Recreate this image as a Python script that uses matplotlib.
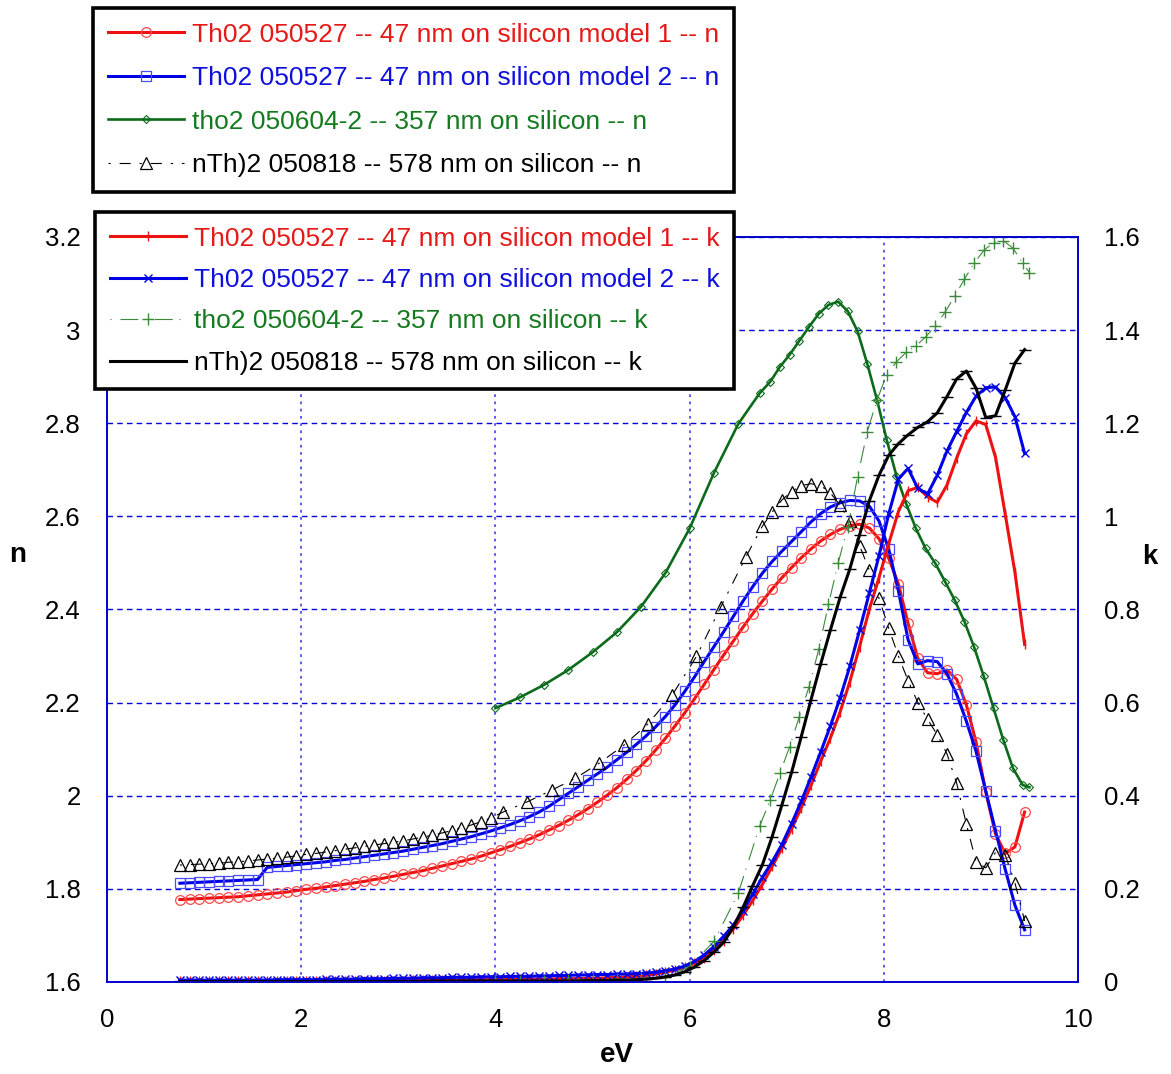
import matplotlib
matplotlib.use('Agg')
import matplotlib.pyplot as plt
from matplotlib import ticker
from matplotlib.lines import Line2D

plt.rcParams['font.family'] = ['Liberation Sans', 'DejaVu Sans']

# photon energy grid (eV) shared by the two Th02 050527 models and the 578 nm k data
energy = [0.75, 0.85, 0.95, 1.05, 1.15, 1.25, 1.35, 1.45, 1.55, 1.65,
          1.75, 1.85, 1.95, 2.05, 2.15, 2.25, 2.35, 2.45, 2.55, 2.65,
          2.75, 2.85, 2.95, 3.05, 3.15, 3.25, 3.35, 3.45, 3.55, 3.65,
          3.75, 3.85, 3.95, 4.05, 4.15, 4.25, 4.35, 4.45, 4.55, 4.65,
          4.75, 4.85, 4.95, 5.05, 5.15, 5.25, 5.35, 5.45, 5.55, 5.65,
          5.75, 5.85, 5.95, 6.05, 6.15, 6.25, 6.35, 6.45, 6.55, 6.65,
          6.75, 6.85, 6.95, 7.05, 7.15, 7.25, 7.35, 7.45, 7.55, 7.65,
          7.75, 7.85, 7.95, 8.05, 8.15, 8.25, 8.35, 8.45, 8.55, 8.65,
          8.75, 8.85, 8.95, 9.05, 9.15, 9.25, 9.35, 9.45]

n_model1 = [1.777, 1.778, 1.779, 1.780, 1.781, 1.782, 1.783, 1.785, 1.787, 1.789,
            1.791, 1.793, 1.796, 1.799, 1.801, 1.804, 1.807, 1.810, 1.813, 1.816,
            1.820, 1.823, 1.827, 1.831, 1.835, 1.839, 1.844, 1.849, 1.854, 1.859,
            1.864, 1.870, 1.877, 1.884, 1.891, 1.899, 1.907, 1.916, 1.926, 1.936,
            1.947, 1.959, 1.972, 1.986, 2.001, 2.017, 2.035, 2.054, 2.075, 2.098,
            2.123, 2.150, 2.178, 2.208, 2.239, 2.271, 2.302, 2.332, 2.362, 2.391,
            2.418, 2.444, 2.468, 2.490, 2.511, 2.530, 2.547, 2.561, 2.572, 2.580,
            2.583, 2.575, 2.552, 2.510, 2.455, 2.370, 2.295, 2.264, 2.262, 2.270,
            2.250, 2.195, 2.115, 2.008, 1.918, 1.876, 1.890, 1.965]

n_model2 = [1.812, 1.813, 1.814, 1.815, 1.816, 1.817, 1.818, 1.819, 1.820, 1.846,
            1.848, 1.850, 1.852, 1.854, 1.856, 1.858, 1.861, 1.863, 1.866, 1.869,
            1.872, 1.875, 1.878, 1.881, 1.885, 1.889, 1.893, 1.897, 1.902, 1.907,
            1.912, 1.918, 1.924, 1.931, 1.938, 1.946, 1.955, 1.965, 1.977, 1.991,
            2.005, 2.019, 2.033, 2.047, 2.061, 2.077, 2.093, 2.110, 2.128, 2.148,
            2.170, 2.195, 2.224, 2.255, 2.288, 2.320, 2.352, 2.385, 2.418, 2.449,
            2.478, 2.503, 2.525, 2.546, 2.567, 2.588, 2.606, 2.620, 2.629, 2.634,
            2.633, 2.622, 2.590, 2.530, 2.440, 2.335, 2.283, 2.290, 2.288, 2.262,
            2.218, 2.160, 2.095, 2.010, 1.925, 1.842, 1.765, 1.712]

k_model1 = [0.002, 0.002, 0.002, 0.002, 0.002, 0.002, 0.002, 0.002, 0.002, 0.002,
            0.002, 0.002, 0.002, 0.002, 0.003, 0.003, 0.003, 0.003, 0.003, 0.003,
            0.003, 0.003, 0.003, 0.003, 0.004, 0.004, 0.004, 0.004, 0.004, 0.004,
            0.005, 0.005, 0.005, 0.005, 0.005, 0.006, 0.006, 0.006, 0.006, 0.007,
            0.007, 0.007, 0.008, 0.008, 0.009, 0.010, 0.011, 0.012, 0.014, 0.017,
            0.021, 0.026, 0.032, 0.040, 0.052, 0.068, 0.089, 0.114, 0.143, 0.175,
            0.210, 0.248, 0.287, 0.329, 0.374, 0.422, 0.474, 0.524, 0.580, 0.645,
            0.720, 0.800, 0.868, 0.941, 1.010, 1.055, 1.062, 1.042, 1.030, 1.067,
            1.125, 1.177, 1.205, 1.197, 1.127, 1.005, 0.880, 0.725]

k_model2 = [0.004, 0.004, 0.004, 0.004, 0.004, 0.004, 0.004, 0.004, 0.004, 0.004,
            0.005, 0.005, 0.005, 0.005, 0.005, 0.006, 0.006, 0.006, 0.006, 0.007,
            0.007, 0.007, 0.008, 0.008, 0.008, 0.009, 0.009, 0.009, 0.010, 0.010,
            0.010, 0.011, 0.011, 0.011, 0.012, 0.012, 0.012, 0.013, 0.013, 0.014,
            0.014, 0.015, 0.015, 0.016, 0.016, 0.017, 0.017, 0.018, 0.019, 0.021,
            0.024, 0.028, 0.034, 0.044, 0.058, 0.076, 0.098, 0.122, 0.153, 0.189,
            0.225, 0.258, 0.295, 0.340, 0.388, 0.440, 0.494, 0.550, 0.610, 0.678,
            0.755, 0.835, 0.915, 1.005, 1.080, 1.103, 1.060, 1.048, 1.088, 1.140,
            1.182, 1.223, 1.258, 1.276, 1.278, 1.255, 1.214, 1.135]

k_578 = [0.001, 0.001, 0.001, 0.001, 0.001, 0.001, 0.001, 0.001, 0.001, 0.001,
         0.001, 0.001, 0.001, 0.001, 0.001, 0.001, 0.001, 0.001, 0.001, 0.001,
         0.001, 0.001, 0.001, 0.001, 0.001, 0.001, 0.002, 0.002, 0.002, 0.002,
         0.002, 0.002, 0.002, 0.002, 0.002, 0.002, 0.002, 0.002, 0.002, 0.002,
         0.002, 0.002, 0.003, 0.003, 0.003, 0.004, 0.004, 0.005, 0.006, 0.008,
         0.011, 0.015, 0.022, 0.032, 0.046, 0.064, 0.085, 0.118, 0.160, 0.207,
         0.252, 0.312, 0.380, 0.450, 0.527, 0.606, 0.683, 0.756, 0.826, 0.887,
         0.960, 1.033, 1.088, 1.131, 1.156, 1.175, 1.191, 1.203, 1.222, 1.257,
         1.295, 1.312, 1.275, 1.212, 1.216, 1.271, 1.329, 1.358]

# nTh)2 050818 n (triangles, coarser in the middle)
energy_578n = [0.75, 0.85, 0.95, 1.05, 1.15, 1.25, 1.35, 1.45, 1.55, 1.65,
               1.75, 1.85, 1.95, 2.05, 2.15, 2.25, 2.35, 2.45, 2.55, 2.65,
               2.75, 2.85, 2.95, 3.05, 3.15, 3.25, 3.35, 3.45, 3.55, 3.65,
               3.75, 3.85, 3.95, 4.08, 4.33, 4.58, 4.82, 5.07, 5.32, 5.57,
               5.82, 6.07, 6.32, 6.58, 6.75, 6.85, 6.95, 7.05, 7.15, 7.25,
               7.35, 7.45, 7.55, 7.65, 7.75, 7.85, 7.95, 8.05, 8.15, 8.25,
               8.35, 8.45, 8.55, 8.65, 8.75, 8.85, 8.95, 9.05, 9.15, 9.25,
               9.35, 9.45]
n_578 = [1.851, 1.852, 1.853, 1.854, 1.855, 1.857, 1.858, 1.860, 1.862, 1.864,
         1.866, 1.868, 1.871, 1.874, 1.876, 1.879, 1.882, 1.885, 1.888, 1.891,
         1.894, 1.897, 1.900, 1.903, 1.907, 1.911, 1.915, 1.920, 1.925, 1.931,
         1.937, 1.944, 1.952, 1.965, 1.987, 2.012, 2.037, 2.070, 2.108, 2.154,
         2.216, 2.299, 2.405, 2.513, 2.579, 2.609, 2.635, 2.653, 2.666, 2.670,
         2.666, 2.650, 2.624, 2.589, 2.537, 2.485, 2.424, 2.360, 2.300, 2.247,
         2.200, 2.164, 2.131, 2.090, 2.027, 1.939, 1.858, 1.845, 1.878, 1.873,
         1.813, 1.731]

# tho2 050604-2 (357 nm)
energy_357 = [4.0, 4.25, 4.5, 4.75, 5.0, 5.25, 5.5, 5.75, 6.0, 6.25,
              6.5, 6.72, 6.83, 6.93, 7.03, 7.13, 7.23, 7.33, 7.43, 7.53,
              7.63, 7.73, 7.83, 7.93, 8.03, 8.13, 8.23, 8.33, 8.43, 8.53,
              8.63, 8.73, 8.83, 8.93, 9.03, 9.13, 9.23, 9.33, 9.43, 9.5]
n_357 = [2.188, 2.211, 2.238, 2.270, 2.308, 2.351, 2.406, 2.478, 2.574, 2.693,
         2.798, 2.864, 2.889, 2.921, 2.947, 2.977, 3.007, 3.035, 3.054, 3.061,
         3.040, 2.997, 2.927, 2.850, 2.764, 2.687, 2.627, 2.574, 2.531, 2.499,
         2.460, 2.420, 2.374, 2.319, 2.256, 2.188, 2.120, 2.059, 2.023, 2.018]
k_357 = [0.002, 0.003, 0.003, 0.004, 0.005, 0.006, 0.008, 0.011, 0.033, 0.087,
         0.190, 0.334, 0.391, 0.448, 0.505, 0.570, 0.634, 0.715, 0.811, 0.900,
         0.978, 1.085, 1.182, 1.250, 1.304, 1.332, 1.352, 1.366, 1.385, 1.409,
         1.438, 1.473, 1.509, 1.544, 1.571, 1.588, 1.592, 1.576, 1.544, 1.523]

labels_n = ['Th02 050527 -- 47 nm on silicon model 1 -- n',
            'Th02 050527 -- 47 nm on silicon model 2 -- n',
            'tho2 050604-2 -- 357 nm on silicon -- n',
            'nTh)2 050818 -- 578 nm on silicon -- n']
labels_k = ['Th02 050527 -- 47 nm on silicon model 1 -- k',
            'Th02 050527 -- 47 nm on silicon model 2 -- k',
            'tho2 050604-2 -- 357 nm on silicon -- k',
            'nTh)2 050818 -- 578 nm on silicon -- k']

RED = '#ee1111'
BLUE = '#0000e6'
DKGREEN = '#0b6b1b'
LTGREEN = '#3a8a3a'
text_colors = ['#e61919', '#1010dd', '#167a20', 'black']

fig = plt.figure(figsize=(11.71, 10.74), dpi=100)
ax = fig.add_axes([0.0914, 0.0857, 0.8292, 0.6937])
ax2 = ax.twinx()

# n curves (left axis)
l1, = ax.plot(energy, n_model1, color=RED, lw=2.2, marker='o', ms=7,
              mfc='none', mec='#ff4a4a', mew=0.9, label=labels_n[0])
l2, = ax.plot(energy, n_model2, color=BLUE, lw=2.2, marker='s', ms=6.6,
              mfc='none', mec='#4a4aff', mew=0.9, label=labels_n[1])
l3, = ax.plot(energy_357, n_357, color=DKGREEN, lw=1.9, marker='D', ms=4.3,
              mfc='none', mec=DKGREEN, mew=0.8, label=labels_n[2])
l4, = ax.plot(energy_578n, n_578, color='black', lw=0.8, ls=(0, (2, 8, 10, 8)),
              marker='^', ms=8, mfc='none', mec='black', mew=0.9, label=labels_n[3])

# k curves (right axis)
m1, = ax2.plot(energy, k_model1, color=RED, lw=2.2, marker='|', ms=7, mew=1,
               label=labels_k[0])
m2, = ax2.plot(energy, k_model2, color=BLUE, lw=2.2, marker='x', ms=6.2, mew=1,
               label=labels_k[1])
m3, = ax2.plot(energy_357, k_357, color=LTGREEN, lw=0.8, ls=(0, (1, 8, 16, 6)),
               marker='+', ms=8.5, mew=1, label=labels_k[2])
ax2.plot(energy, k_578, color='black', lw=2.2, marker='_', ms=8, mew=1)
m4 = Line2D([], [], color='black', lw=2.2, label=labels_k[3])

ax.set_xlim(0, 10)
ax.set_ylim(1.6, 3.2)
ax2.set_ylim(0, 1.6)
ax.xaxis.set_major_locator(ticker.MultipleLocator(2))
ax.yaxis.set_major_locator(ticker.MultipleLocator(0.2))
ax2.yaxis.set_major_locator(ticker.MultipleLocator(0.2))
fmt = ticker.FuncFormatter(lambda v, p: f'{round(v, 2):g}')
ax.yaxis.set_major_formatter(fmt)
ax2.yaxis.set_major_formatter(fmt)

ax.yaxis.grid(True, color='#0000dd', ls=(0, (4, 3)), lw=1.0)
ax.xaxis.grid(True, color='#5050ee', ls=(0, (1.5, 2.5)), lw=1.3)
ax.set_axisbelow(True)

for a in (ax, ax2):
    a.tick_params(length=0, pad=19, labelsize=18.5)
    for sp in a.spines.values():
        sp.set_color('#0000cc')
        sp.set_linewidth(1.2)

ax.set_xlabel('eV', fontsize=20, fontweight='bold')
ax.xaxis.set_label_coords(0.525, -0.080)
ax.set_ylabel('n', fontsize=20, fontweight='bold', rotation=0, va='center', ha='center')
ax.yaxis.set_label_coords(-0.0917, 0.573)
ax2.set_ylabel('k', fontsize=20, fontweight='bold', rotation=0, va='center', ha='center')
ax2.yaxis.set_label_coords(1.074, 0.570)

leg_kw = dict(loc='upper left', bbox_transform=fig.transFigure, frameon=True,
              fancybox=False, edgecolor='black', framealpha=1, fontsize=19,
              handlelength=2.9, handletextpad=0.3, borderpad=0.55,
              borderaxespad=0, numpoints=1)
leg1 = fig.legend(handles=[l1, l2, l3, l4], bbox_to_anchor=(93 / 1171, 1 - 8 / 1074),
                  labelspacing=0.74, **leg_kw)
leg2 = fig.legend(handles=[m1, m2, m3, m4], bbox_to_anchor=(95 / 1171, 1 - 212 / 1074),
                  labelspacing=0.66, **leg_kw)
for leg in (leg1, leg2):
    leg.get_frame().set_linewidth(2.6)
    for t, c in zip(leg.get_texts(), text_colors):
        t.set_color(c)

fig.savefig('out.png', dpi=100)
